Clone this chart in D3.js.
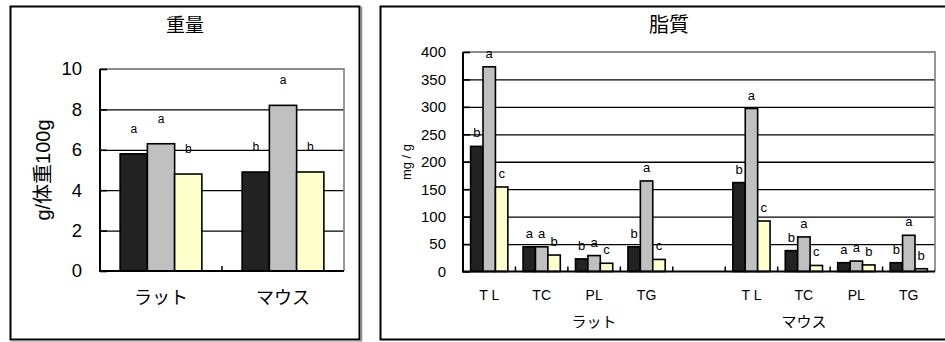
<!DOCTYPE html>
<html><head><meta charset="utf-8">
<script src="https://cdn.jsdelivr.net/npm/d3@7"></script>
<style>
body{margin:0;background:#fff;}
svg text{font-family:"Liberation Sans","Noto Sans CJK JP",Arial,sans-serif;fill:#000;}
</style></head><body>
<svg id="c" width="945" height="342"></svg>
<script>
// ---- data: 重量 ----
const weightCategories = ["ラット", "マウス"];
const weightSeries1 = [5.8, 4.9];
const weightSeries2 = [6.3, 8.2];
const weightSeries3 = [4.8, 4.9];
const weightLetters1 = ["a", "b"];
const weightLetters2 = ["a", "a"];
const weightLetters3 = ["b", "b"];
const weightTicks = [0, 2, 4, 6, 8, 10];

// ---- data: 脂質 ----
const lipidCategories = ["T L", "TC", "PL", "TG", "", "T L", "TC", "PL", "TG"];
const lipidGroups = ["ラット", "マウス"];
const lipidGroupSpans = [[0, 4], [4, 8]];
const lipidSeries1 = [228, 45, 23, 45, null, 162, 38, 16, 16];
const lipidSeries2 = [373, 45, 29, 165, null, 297, 63, 19, 66];
const lipidSeries3 = [154, 30, 15, 22, null, 92, 11, 12, 5];
const lipidLetters1 = ["b", "a", "b", "b", "", "b", "b", "a", "b"];
const lipidLetters2 = ["a", "a", "a", "a", "", "a", "a", "a", "a"];
const lipidLetters3 = ["c", "b", "c", "c", "", "c", "c", "b", "b"];
const lipidTicks = [0, 50, 100, 150, 200, 250, 300, 350, 400];

const barColors = ["#222222", "#c0c0c0", "#ffffcc"];

const svg = d3.select("#c");

// frames
svg.append("rect").attr("x", 10.5).attr("y", 6.5).attr("width", 349).attr("height", 333)
  .attr("fill", "#fff").attr("stroke", "#000").attr("stroke-width", 2);
svg.append("line").attr("x1", 361.5).attr("x2", 361.5).attr("y1", 7).attr("y2", 341)
  .attr("stroke", "#888").attr("stroke-width", 1.5);
svg.append("line").attr("x1", 11).attr("x2", 362).attr("y1", 341).attr("y2", 341)
  .attr("stroke", "#888").attr("stroke-width", 1);
svg.append("rect").attr("x", 380.5).attr("y", 6.5).attr("width", 600).attr("height", 333)
  .attr("fill", "#fff").attr("stroke", "#000").attr("stroke-width", 2);

function drawChart(cfg) {
  const g = svg.append("g");
  const x0 = d3.scaleBand().domain(d3.range(cfg.categories.length))
    .range([cfg.left, cfg.right]).paddingInner(0).paddingOuter(0);
  const y = d3.scaleLinear().domain([0, cfg.max]).range([cfg.bottom, cfg.top]);
  const groupW = x0.bandwidth() * cfg.groupRatio;
  const x1 = d3.scaleBand().domain([0, 1, 2]).range([0, groupW]);

  // gridlines
  g.selectAll(".grid").data(cfg.ticks.filter(t => t > 0 && t < cfg.max)).enter()
    .append("line").attr("x1", cfg.left).attr("x2", cfg.right)
    .attr("y1", d => y(d) + 0.5).attr("y2", d => y(d) + 0.5)
    .attr("stroke", "#000").attr("stroke-width", 1.3);
  // top/right border gray
  g.append("path").attr("d", `M${cfg.left},${y(cfg.max)}H${cfg.right}V${cfg.bottom}`)
    .attr("fill", "none").attr("stroke", "#8c8c8c").attr("stroke-width", 1.8);

  // bars
  const series = [cfg.s1, cfg.s2, cfg.s3];
  const letters = [cfg.l1, cfg.l2, cfg.l3];
  series.forEach((vals, si) => {
    g.selectAll(".bar" + si).data(vals.map((v, i) => ({v, i}))
      .filter(d => d.v !== null)).enter()
      .append("rect")
      .attr("x", d => x0(d.i) + (x0.bandwidth() - groupW) / 2 + x1(si))
      .attr("width", x1.bandwidth())
      .attr("y", d => y(d.v))
      .attr("height", d => y(0) - y(d.v))
      .attr("fill", barColors[si]).attr("stroke", "#000").attr("stroke-width", 1.6);
    g.selectAll(".lab" + si).data(vals.map((v, i) => ({v, i, t: letters[si][i]}))
      .filter(d => d.v !== null)).enter()
      .append("text")
      .attr("x", d => x0(d.i) + (x0.bandwidth() - groupW) / 2 + x1(si) + x1.bandwidth() / 2)
      .attr("y", d => y(d.v) - cfg.labelGap)
      .attr("text-anchor", "middle").attr("font-size", cfg.labelSize)
      .attr("fill", "#000").text(d => d.t);
  });

  // y axis
  const yAxis = d3.axisLeft(y).tickValues(cfg.ticks).tickSize(0).tickPadding(cfg.tickPad);
  const ya = g.append("g").attr("transform", `translate(${cfg.left},0)`).call(yAxis);
  ya.select(".domain").remove();
  ya.selectAll("text").attr("font-size", cfg.tickSize).attr("fill", "#000")
    .attr("font-family", "'Liberation Sans',Arial,sans-serif");
  // inside tick marks
  g.selectAll(".yt").data(cfg.ticks).enter().append("line")
    .attr("x1", cfg.left).attr("x2", cfg.left + 7)
    .attr("y1", d => y(d) + 0.5).attr("y2", d => y(d) + 0.5)
    .attr("stroke", "#000").attr("stroke-width", 1.6);
  g.append("line").attr("x1", cfg.left).attr("x2", cfg.left)
    .attr("y1", y(cfg.max)).attr("y2", cfg.bottom + 1)
    .attr("stroke", "#000").attr("stroke-width", 2);
  // x axis
  g.append("line").attr("x1", cfg.left).attr("x2", cfg.right)
    .attr("y1", cfg.bottom).attr("y2", cfg.bottom)
    .attr("stroke", "#000").attr("stroke-width", 2);
  g.selectAll(".xt").data(d3.range(1, cfg.categories.length)).enter().append("line")
    .attr("x1", d => x0(d)).attr("x2", d => x0(d))
    .attr("y1", cfg.bottom).attr("y2", cfg.bottom - 5)
    .attr("stroke", "#000").attr("stroke-width", 1.5);
  g.selectAll(".xl").data(cfg.categories).enter().append("text")
    .attr("x", (d, i) => x0(i) + x0.bandwidth() / 2)
    .attr("y", cfg.catY).attr("text-anchor", "middle")
    .attr("font-size", cfg.catSize).text(d => d);

  // titles
  g.append("text").attr("x", cfg.titleX).attr("y", 32).attr("text-anchor", "middle")
    .attr("font-size", cfg.titleSize).text(cfg.title);
  g.append("text").attr("transform", `translate(${cfg.yTitleX},${cfg.yTitleY}) rotate(-90)`)
    .attr("text-anchor", "middle").attr("dominant-baseline", "central")
    .attr("font-size", cfg.yTitleSize).text(cfg.yTitle);
  return {x0, y};
}

drawChart({
  categories: weightCategories, s1: weightSeries1, s2: weightSeries2, s3: weightSeries3,
  l1: weightLetters1, l2: weightLetters2, l3: weightLetters3, ticks: weightTicks, max: 10,
  left: 100, right: 344, top: 69, bottom: 271, groupRatio: 0.67,
  labelGap: 21, labelSize: 12, tickSize: 18.5, tickPad: 18, catY: 304, catSize: 18,
  title: "重量", titleX: 185, titleSize: 19,
  yTitle: "g/体重100g", yTitleX: 43, yTitleY: 170, yTitleSize: 20
});

const lip = drawChart({
  categories: lipidCategories, s1: lipidSeries1, s2: lipidSeries2, s3: lipidSeries3,
  l1: lipidLetters1, l2: lipidLetters2, l3: lipidLetters3, ticks: lipidTicks, max: 400,
  left: 463, right: 935, top: 52, bottom: 271.5, groupRatio: 0.71,
  labelGap: 9, labelSize: 13, tickSize: 15, tickPad: 17, catY: 300, catSize: 14,
  title: "脂質", titleX: 669, titleSize: 20,
  yTitle: "mg / g", yTitleX: 406, yTitleY: 162, yTitleSize: 13
});

// group labels under the lipid categories
svg.selectAll(".grp").data(lipidGroups).enter().append("text")
  .attr("x", (d, i) => {
    const [a, b] = lipidGroupSpans[i];
    return (lip.x0(a) + lip.x0(b) + lip.x0.bandwidth()) / 2;
  })
  .attr("y", 327).attr("text-anchor", "middle").attr("font-size", 15).text(d => d);
</script>
</body></html>
